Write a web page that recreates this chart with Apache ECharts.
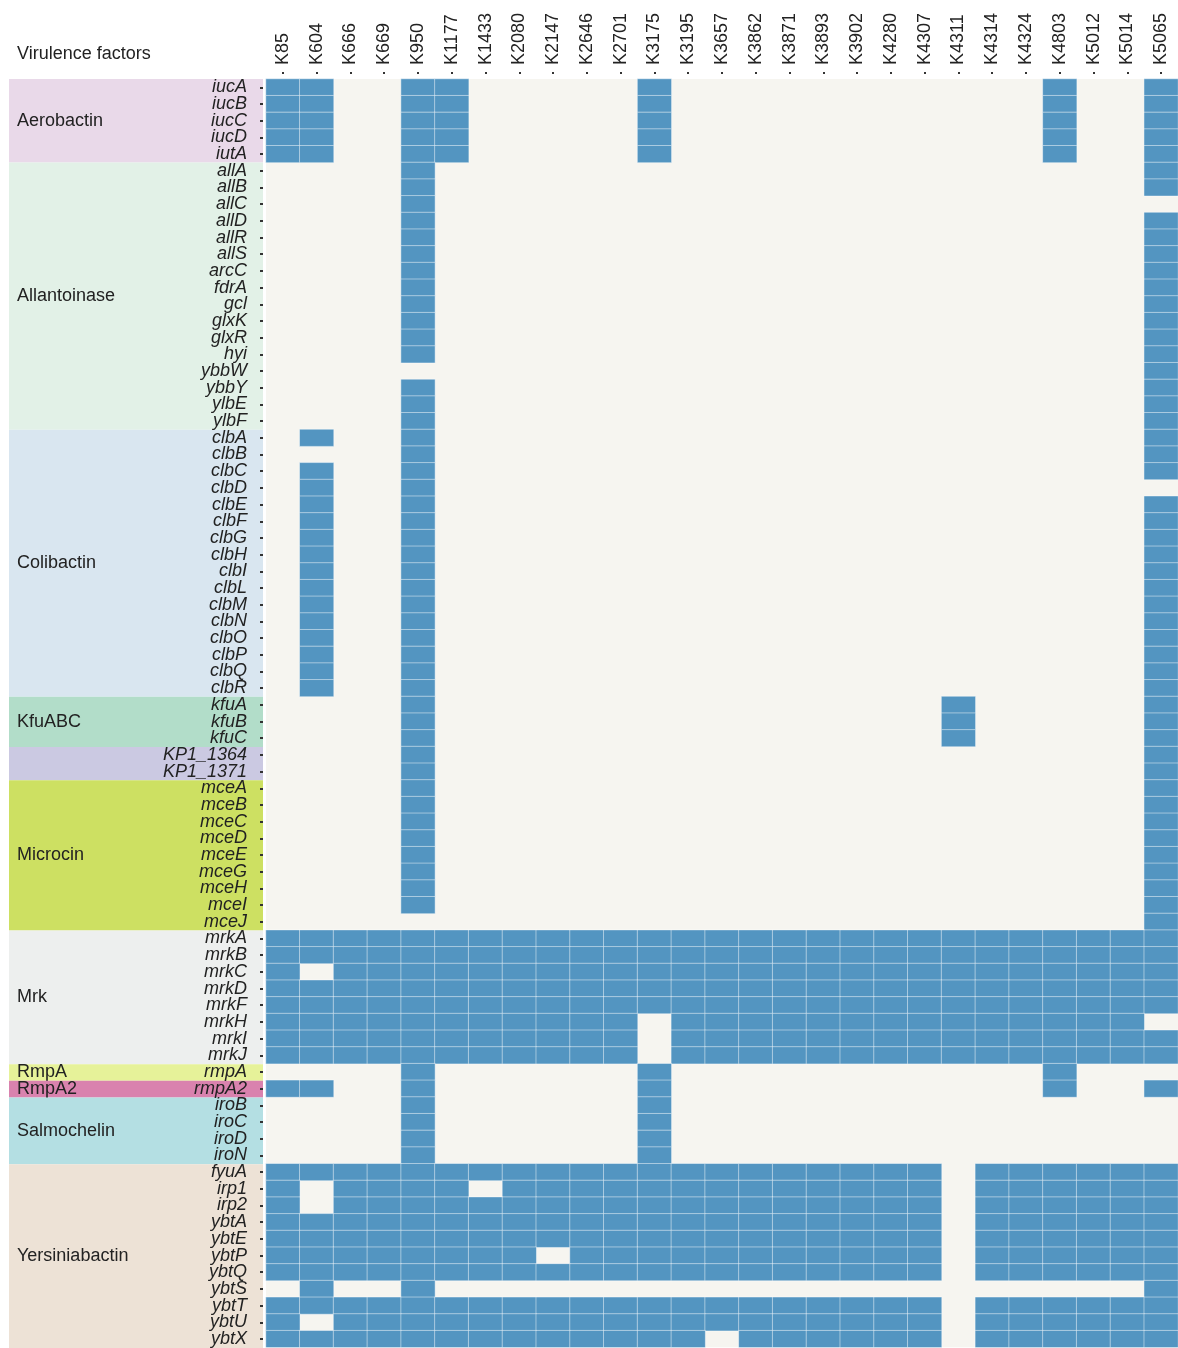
<!DOCTYPE html>
<html>
<head>
<meta charset="utf-8">
<title>Virulence factors</title>
<script src="https://cdn.jsdelivr.net/npm/echarts@6/dist/echarts.min.js"></script>
<style>
  html, body { margin: 0; padding: 0; background: #ffffff; }
  #chart { width: 1178px; height: 1348px; }
</style>
</head>
<body>
<div id="chart"></div>
<script>
const strains = [
  "K85", "K604", "K666", "K669", "K950", "K1177", "K1433", "K2080", "K2147",
  "K2646", "K2701", "K3175", "K3195", "K3657", "K3862", "K3871", "K3893",
  "K3902", "K4280", "K4307", "K4311", "K4314", "K4324", "K4803", "K5012",
  "K5014", "K5065",
];

const groupNames = [
  "Aerobactin", "Allantoinase", "Colibactin", "KfuABC", "", "Microcin",
  "Mrk", "RmpA", "RmpA2", "Salmochelin", "Yersiniabactin",
];

const groupGenes = [
  ["iucA", "iucB", "iucC", "iucD", "iutA"],
  ["allA", "allB", "allC", "allD", "allR", "allS", "arcC", "fdrA", "gcl", "glxK", "glxR", "hyi", "ybbW", "ybbY", "ylbE", "ylbF"],
  ["clbA", "clbB", "clbC", "clbD", "clbE", "clbF", "clbG", "clbH", "clbI", "clbL", "clbM", "clbN", "clbO", "clbP", "clbQ", "clbR"],
  ["kfuA", "kfuB", "kfuC"],
  ["KP1_1364", "KP1_1371"],
  ["mceA", "mceB", "mceC", "mceD", "mceE", "mceG", "mceH", "mceI", "mceJ"],
  ["mrkA", "mrkB", "mrkC", "mrkD", "mrkF", "mrkH", "mrkI", "mrkJ"],
  ["rmpA"],
  ["rmpA2"],
  ["iroB", "iroC", "iroD", "iroN"],
  ["fyuA", "irp1", "irp2", "ybtA", "ybtE", "ybtP", "ybtQ", "ybtS", "ybtT", "ybtU", "ybtX"],
];

// presence per gene, one character per strain (1 = present)
const aerobactin = [
  "110011000001000000000001001",
  "110011000001000000000001001",
  "110011000001000000000001001",
  "110011000001000000000001001",
  "110011000001000000000001001",
];
const allantoinase = [
  "000010000000000000000000001",
  "000010000000000000000000001",
  "000010000000000000000000000",
  "000010000000000000000000001",
  "000010000000000000000000001",
  "000010000000000000000000001",
  "000010000000000000000000001",
  "000010000000000000000000001",
  "000010000000000000000000001",
  "000010000000000000000000001",
  "000010000000000000000000001",
  "000010000000000000000000001",
  "000000000000000000000000001",
  "000010000000000000000000001",
  "000010000000000000000000001",
  "000010000000000000000000001",
];
const colibactin = [
  "010010000000000000000000001",
  "000010000000000000000000001",
  "010010000000000000000000001",
  "010010000000000000000000000",
  "010010000000000000000000001",
  "010010000000000000000000001",
  "010010000000000000000000001",
  "010010000000000000000000001",
  "010010000000000000000000001",
  "010010000000000000000000001",
  "010010000000000000000000001",
  "010010000000000000000000001",
  "010010000000000000000000001",
  "010010000000000000000000001",
  "010010000000000000000000001",
  "010010000000000000000000001",
];
const kfuABC = [
  "000010000000000000001000001",
  "000010000000000000001000001",
  "000010000000000000001000001",
];
const kp1 = [
  "000010000000000000000000001",
  "000010000000000000000000001",
];
const microcin = [
  "000010000000000000000000001",
  "000010000000000000000000001",
  "000010000000000000000000001",
  "000010000000000000000000001",
  "000010000000000000000000001",
  "000010000000000000000000001",
  "000010000000000000000000001",
  "000010000000000000000000001",
  "000000000000000000000000001",
];
const mrk = [
  "111111111111111111111111111",
  "111111111111111111111111111",
  "101111111111111111111111111",
  "111111111111111111111111111",
  "111111111111111111111111111",
  "111111111110111111111111110",
  "111111111110111111111111111",
  "111111111110111111111111111",
];
const rmpA = ["000010000001000000000001000"];
const rmpA2 = ["110010000001000000000001001"];
const salmochelin = [
  "000010000001000000000000000",
  "000010000001000000000000000",
  "000010000001000000000000000",
  "000010000001000000000000000",
];
const yersiniabactin = [
  "111111111111111111110111111",
  "101111011111111111110111111",
  "101111111111111111110111111",
  "111111111111111111110111111",
  "111111111111111111110111111",
  "111111110111111111110111111",
  "111111111111111111110111111",
  "010010000000000000000000001",
  "111111111111111111110111111",
  "101111111111111111110111111",
  "111111111111101111110111111",
];

const groupColors = [
  "#e9d9e9", "#e2f1e7", "#d9e6f0", "#b2ddc9", "#cbc9e2", "#cde062",
  "#edefee", "#e6f299", "#d982ae", "#b4dfe3", "#ede2d6",
];

const presenceRows = [
  aerobactin, allantoinase, colibactin, kfuABC, kp1, microcin,
  mrk, rmpA, rmpA2, salmochelin, yersiniabactin,
];

const FONT = "'Liberation Sans', Arial, Helvetica, sans-serif";
const genes = groupGenes.flat();
const presence = presenceRows.flat();

const cells = [];
presence.forEach((row, r) => {
  for (let c = 0; c < strains.length; c++) {
    if (row[c] === "1") cells.push([c, r, 1]);
  }
});

const bands = [];
let start = 0;
groupGenes.forEach((list, g) => {
  bands.push([start, start + list.length - 1, g]);
  start += list.length;
});

const chart = echarts.init(document.getElementById("chart"));

chart.setOption({
  animation: false,
  title: {
    text: "Virulence factors",
    left: 17,
    top: 45,
    padding: 0,
    textStyle: { fontFamily: FONT, fontSize: 18, fontWeight: "normal", color: "#222" },
  },
  grid: [
    {
      left: 266, top: 79, width: 926, height: 1269,
      show: true, backgroundColor: "#f6f5f0", borderWidth: 0,
    },
    { left: 9, top: 79, width: 254, height: 1269 },
  ],
  xAxis: [
    {
      type: "category",
      gridIndex: 0,
      position: "top",
      data: strains,
      offset: 5,
      axisLine: { show: false },
      axisTick: { show: true, alignWithLabel: true, interval: 0, length: 2, lineStyle: { color: "#333", width: 2 } },
      axisLabel: { interval: 0, rotate: -90, margin: 9, fontFamily: FONT, fontSize: 18, color: "#222" },
      splitLine: { show: false },
    },
    { type: "value", gridIndex: 1, min: 0, max: 1, show: false },
  ],
  yAxis: [
    {
      type: "category",
      gridIndex: 0,
      inverse: true,
      data: genes,
      offset: 3,
      z: 5,
      axisLine: { show: false },
      axisTick: { show: true, alignWithLabel: true, interval: 0, length: 3, lineStyle: { color: "#333", width: 2 } },
      axisLabel: { interval: 0, margin: 16, fontFamily: FONT, fontSize: 18, fontStyle: "italic", color: "#222" },
      splitLine: { show: false },
    },
    { type: "category", gridIndex: 1, inverse: true, data: genes, show: false },
  ],
  series: [
    {
      type: "heatmap",
      xAxisIndex: 0,
      yAxisIndex: 0,
      data: cells,
      itemStyle: { color: "#5395c1", borderColor: "rgba(255,255,255,0.45)", borderWidth: 1 },
      emphasis: { disabled: true },
    },
    {
      type: "custom",
      xAxisIndex: 1,
      yAxisIndex: 1,
      z: 1,
      data: bands,
      encode: { y: [0, 1] },
      renderItem: function (params, api) {
        const first = api.value(0);
        const last = api.value(1);
        const g = api.value(2);
        const h = api.size([0, 1])[1];
        const p0 = api.coord([0, first]);
        const p1 = api.coord([1, last]);
        const y0 = p0[1] - h / 2;
        const y1 = p1[1] + h / 2;
        return {
          type: "group",
          children: [
            {
              type: "rect",
              shape: { x: p0[0], y: y0, width: p1[0] - p0[0], height: y1 - y0 },
              style: { fill: groupColors[g] },
            },
            {
              type: "text",
              style: {
                text: groupNames[g],
                x: p0[0] + 8,
                y: (y0 + y1) / 2,
                verticalAlign: "middle",
                fontFamily: FONT,
                fontSize: 18,
                fill: "#222",
              },
            },
          ],
        };
      },
    },
  ],
});

window.addEventListener("resize", () => {
  chart.resize();
});
</script>
</body>
</html>
